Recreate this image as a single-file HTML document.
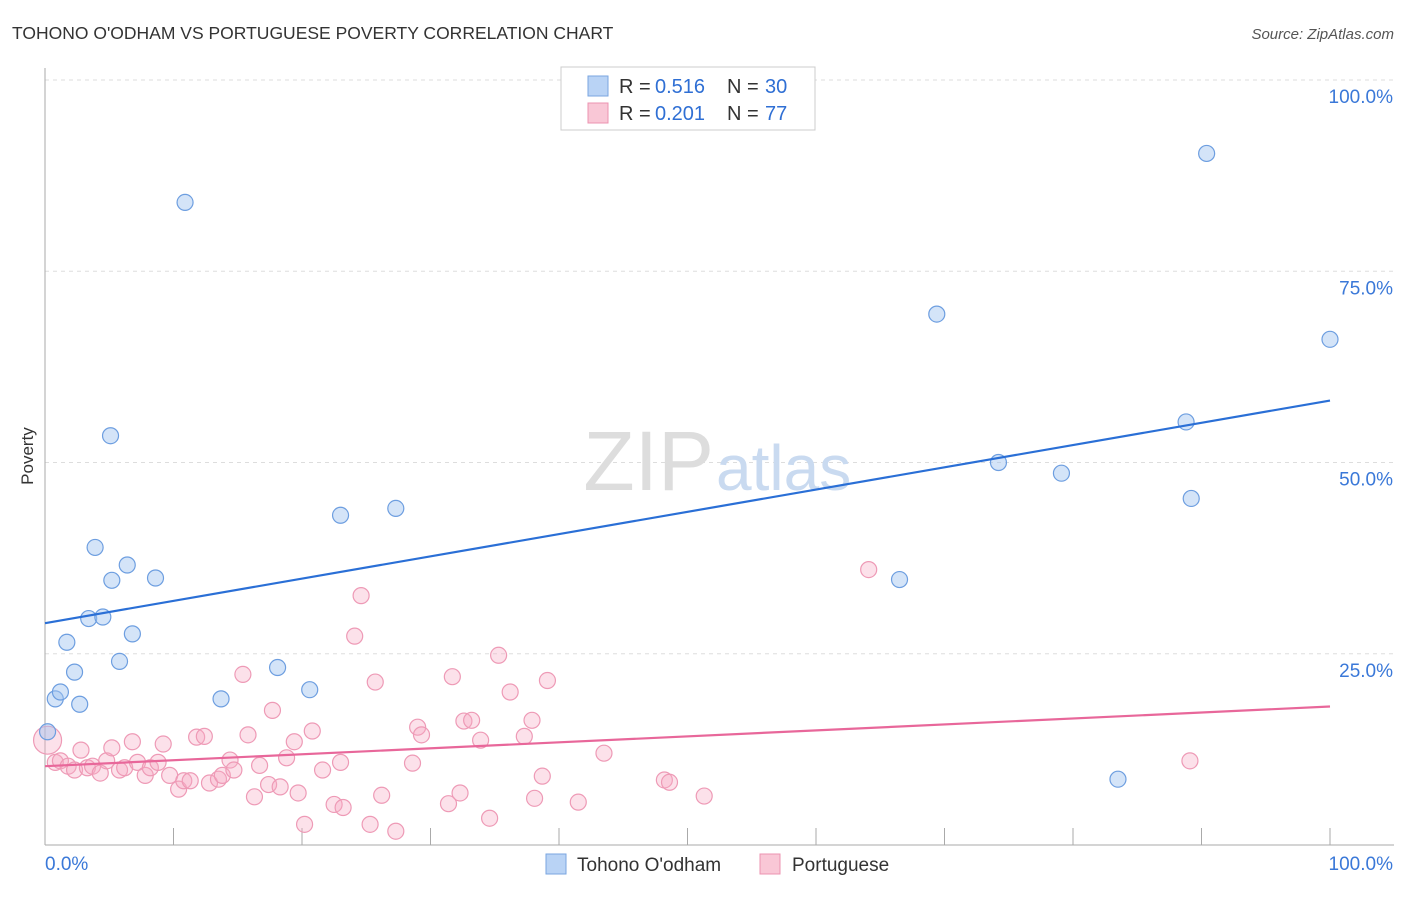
<!DOCTYPE html>
<html><head><meta charset="utf-8">
<style>
body{margin:0;background:#fff;font-family:"Liberation Sans",sans-serif;}
svg text{font-family:"Liberation Sans",sans-serif;}
</style></head>
<body>
<svg id="chart" width="1406" height="892" xmlns="http://www.w3.org/2000/svg">
<text x="12" y="39" font-size="17.5" fill="#333">TOHONO O'ODHAM VS PORTUGUESE POVERTY CORRELATION CHART</text>
<text x="1394" y="39" font-size="15" fill="#555" font-style="italic" text-anchor="end">Source: ZipAtlas.com</text>
<text x="33" y="456" font-size="17" fill="#333" transform="rotate(-90 33 456)" text-anchor="middle">Poverty</text>
<g id="grid"></g>
<text x="714" y="490" font-size="84" fill="#ddd" text-anchor="end" font-family="Liberation Serif">ZIP</text>
<text x="716" y="490" font-size="64" fill="#c9daf0">atlas</text>
<g id="marks"></g>
<g>
<rect x="561" y="67" width="254" height="63" fill="#fff" stroke="#ccc"/>
<rect x="588" y="76" width="20" height="20" fill="#b9d3f5" stroke="#7aa6e0"/>
<rect x="588" y="103" width="20" height="20" fill="#f9c7d6" stroke="#ec93b0"/>
<text x="619" y="93" font-size="20" fill="#333">R =</text>
<text x="655" y="93" font-size="20" fill="#2f6fd4">0.516</text>
<text x="727" y="93" font-size="20" fill="#333">N =</text>
<text x="765" y="93" font-size="20" fill="#2f6fd4">30</text>
<text x="619" y="120" font-size="20" fill="#333">R =</text>
<text x="655" y="120" font-size="20" fill="#2f6fd4">0.201</text>
<text x="727" y="120" font-size="20" fill="#333">N =</text>
<text x="765" y="120" font-size="20" fill="#2f6fd4">77</text>
</g>
<g>
<rect x="546" y="854" width="20" height="20" fill="#b9d3f5" stroke="#7aa6e0"/>
<text x="577" y="871" font-size="19" fill="#333">Tohono O'odham</text>
<rect x="760" y="854" width="20" height="20" fill="#f9c7d6" stroke="#ec93b0"/>
<text x="792" y="871" font-size="19" fill="#333">Portuguese</text>
</g>
</svg>
<script>
const yTicks=[25,50,75,100];
const yTickLabels=["25.0%","50.0%","75.0%","100.0%"];
const xTicks=[0,10,20,30,40,50,60,70,80,90,100];
const blueX=[0.2,0.8,1.2,1.7,2.3,2.7,3.4,3.9,4.5,5.1,5.2,5.8,6.4,6.8,8.6,10.9,13.7,18.1,20.6,23.0,27.3,66.5,69.4,74.2,79.1,83.5,88.8,89.2,90.4,100];
const blueY=[14.8,19.1,20.0,26.5,22.6,18.4,29.6,38.9,29.8,53.5,34.6,24.0,36.6,27.6,34.9,84.0,19.1,23.2,20.3,43.1,44.0,34.7,69.4,50.0,48.6,8.6,55.3,45.3,90.4,66.1];
const pinkX=[0.2,0.8,1.2,1.8,2.3,2.8,3.3,3.7,4.3,4.8,5.2,5.8,6.2,6.8,7.2,7.8,8.2,8.8,9.2,9.7,10.4,10.8,11.3,11.8,12.4,12.8,13.5,13.8,14.4,14.7,15.4,15.8,16.3,16.7,17.4,17.7,18.3,18.8,19.4,19.7,20.2,20.8,21.6,22.5,23.0,23.2,24.1,24.6,25.3,25.7,26.2,27.3,28.6,29.0,29.3,31.4,31.7,32.3,32.6,33.2,33.9,34.6,35.3,36.2,37.3,37.9,38.1,38.7,39.1,41.5,43.5,48.2,48.6,51.3,64.1,89.1];
const pinkY=[13.7,10.8,11.0,10.3,9.8,12.4,10.1,10.3,9.4,11.0,12.7,9.8,10.1,13.5,10.8,9.1,10.1,10.8,13.2,9.1,7.3,8.4,8.4,14.1,14.2,8.1,8.6,9.1,11.1,9.8,22.3,14.4,6.3,10.4,7.9,17.6,7.6,11.4,13.5,6.8,2.7,14.9,9.8,5.3,10.8,4.9,27.3,32.6,2.7,21.3,6.5,1.8,10.7,15.4,14.4,5.4,22.0,6.8,16.2,16.3,13.7,3.5,24.8,20.0,14.2,16.3,6.1,9.0,21.5,5.6,12.0,8.5,8.2,6.4,36.0,11.0];
const blueLine=[29.0,58.1];
const pinkLine=[10.3,18.1];
const X0=45,X1=1330,Y0=845,Y100=80;
const sx=v=>X0+(X1-X0)*v/100, sy=v=>Y0-(Y0-Y100)*v/100;
const NS="http://www.w3.org/2000/svg";
const grid=document.getElementById('grid'), marks=document.getElementById('marks');
function mk(tag,attrs,parent){const e=document.createElementNS(NS,tag);for(const k in attrs)e.setAttribute(k,attrs[k]);parent.appendChild(e);return e;}
yTicks.forEach((t,i)=>{
 const l=mk('line',{x1:X0,x2:1394,y1:sy(t),y2:sy(t),stroke:'#ddd','stroke-dasharray':'4,4'},grid);
 
 
 const tx=mk('text',{x:1393,y:sy(t)+23,'font-size':19,fill:'#3a78d8','text-anchor':'end'},grid);
 tx.textContent=yTickLabels[i];
 
 
});
const ax=mk('line',{x1:X0,x2:X0,y1:68,y2:Y0,stroke:'#aaa'},grid);


const bx=mk('line',{x1:X0,x2:1394,y1:Y0,y2:Y0,stroke:'#aaa'},grid);


xTicks.forEach(t=>{
 const l=mk('line',{x1:sx(t),x2:sx(t),y1:Y0,y2:Y0-17,stroke:'#aaa'},grid);
 
 
});
const xl0=mk('text',{x:45,y:870,'font-size':19,fill:'#3a78d8'},grid);xl0.textContent='0.0%';


const xl1=mk('text',{x:1393,y:870,'font-size':19,fill:'#3a78d8','text-anchor':'end'},grid);xl1.textContent='100.0%';


pinkX.forEach((x,i)=>{
 const c=mk('circle',{cx:sx(x),cy:sy(pinkY[i]),r:i===0?14:8,fill:'rgba(246,170,195,0.35)',stroke:'#ee9ab6','stroke-width':1.2},marks);
 
 
});
blueX.forEach((x,i)=>{
 const c=mk('circle',{cx:sx(x),cy:sy(blueY[i]),r:8,fill:'rgba(160,195,240,0.45)',stroke:'#6d9ee0','stroke-width':1.2},marks);
 
 
});
const bl=mk('line',{x1:sx(0),y1:sy(blueLine[0]),x2:sx(100),y2:sy(blueLine[1]),stroke:'#2a6fd6','stroke-width':2.2},marks);


const pl=mk('line',{x1:sx(0),y1:sy(pinkLine[0]),x2:sx(100),y2:sy(pinkLine[1]),stroke:'#e8679a','stroke-width':2.2},marks);


</script>
</body></html>
